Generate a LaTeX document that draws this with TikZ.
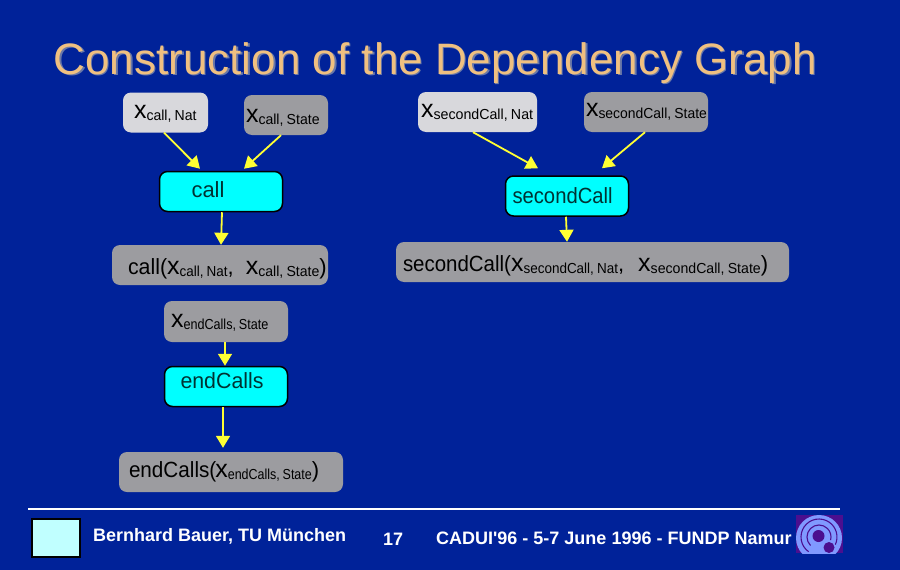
\documentclass[tikz,border=0pt]{standalone}
\usepackage{graphicx}
\usepackage{fontspec}
\setmainfont{Liberation Sans}
\newfontfamily\footfont{Liberation Sans}
\usetikzlibrary{arrows.meta}
\definecolor{bgblue}{HTML}{002299}
\definecolor{titlecol}{HTML}{F0C080}
\definecolor{shadowcol}{HTML}{6A78A8}
\definecolor{lightg}{HTML}{D8D8DC}
\definecolor{midg}{HTML}{9C9CA0}
\definecolor{cyanbox}{HTML}{00FFFF}
\definecolor{swatch}{HTML}{C0FFFF}
\definecolor{logobg}{HTML}{4B0F8F}
\definecolor{logoblue}{HTML}{8099FF}
\definecolor{yarrow}{HTML}{FFFF33}
\newcommand{\bigtxt}[1]{{\fontsize{22}{24}\selectfont #1}}
\newcommand{\xtxt}{{\fontsize{25}{24}\selectfont x}}
\newcommand{\subtxt}[2][.97]{\raisebox{-2pt}{\scalebox{#1}[1]{\fontsize{14.5}{16}\selectfont #2}}}
\newcommand{\sqz}[2][.93]{\scalebox{#1}[1]{\bigtxt{#2}}}
\tikzset{
  x=1pt,y=-1pt,
  anybox/.style={rounded corners=8pt,inner xsep=0pt,inner ysep=0pt,align=left,text=black,text height=10pt,text depth=5pt},
  lightbox/.style={anybox,fill=lightg},
  greybox/.style={anybox,fill=midg},
  opbox/.style={anybox,fill=cyanbox,draw=black,line width=1.5pt,text=black!80!cyanbox},
  flow/.style={draw=yarrow,line width=1.8pt,-{Triangle[length=12pt,width=14pt]}},
  foot/.style={text=white,font=\footfont\bfseries\fontsize{18}{20}\selectfont,anchor=base west,inner sep=0pt},
}
\begin{document}
\begin{tikzpicture}
\useasboundingbox (0,0) rectangle (900,570);
\fill[bgblue] (0,0) rectangle (900,570);
% title
\node[anchor=base west,inner sep=0pt,text=shadowcol,font=\fontsize{44}{48}\selectfont] (titleshadow) at (55,75.5) {Construction of the Dependency Graph};
\node[anchor=base west,inner sep=0pt,text=titlecol,font=\fontsize{44}{48}\selectfont] (title) at (53.5,74) {Construction of the Dependency Graph};
% left column
\node[lightbox,text width=85pt,minimum height=40pt] (cn) at (165.5,112.5) {\hspace*{11pt}\raisebox{-3.5pt}{\xtxt\subtxt{call, Nat}}};
\node[greybox,text width=84pt,minimum height=40pt] (cs) at (286,115) {\hspace*{2pt}\raisebox{-4.5pt}{\xtxt\subtxt[.97]{call, State}}};
\node[opbox,text width=123pt,minimum height=40pt] (call) at (221,191.5) {\hspace*{32pt}\raisebox{-3pt}{\bigtxt{call}}};
\node[greybox,text width=216pt,minimum height=40pt] (callr) at (220,265) {\hspace*{16pt}\raisebox{-6.5pt}{\sqz[.97]{call(}\xtxt\subtxt[.93]{call, Nat}\bigtxt{,}\hspace{12pt}\xtxt\subtxt[.97]{call, State}\bigtxt{)}}};
\node[greybox,text width=124pt,minimum height=41pt] (es) at (226,321.5) {\hspace*{7pt}\raisebox{-3pt}{\xtxt\subtxt[.87]{endCalls, State}}};
\node[opbox,text width=123pt,minimum height=40pt] (end) at (226,386.5) {\hspace*{16pt}\raisebox{1pt}{\sqz[.97]{endCalls}}};
\node[greybox,text width=224pt,minimum height=40pt] (endr) at (231,472) {\hspace*{10pt}\raisebox{-2.5pt}{\sqz[.94]{endCalls(}\hspace{-1pt}\xtxt\subtxt[.86]{endCalls, State}\bigtxt{)}}};
% right column
\node[lightbox,text width=119pt,minimum height=40pt] (sn) at (477.5,112) {\hspace*{3pt}\raisebox{-2.5pt}{\xtxt\subtxt[.98]{secondCall, Nat}}};
\node[greybox,text width=124pt,minimum height=40pt] (ss) at (646,112) {\hspace*{2pt}\raisebox{-1.5pt}{\xtxt\subtxt[.96]{secondCall, State}}};
\node[opbox,text width=123pt,minimum height=40pt] (sc) at (567,196) {\hspace*{7pt}\raisebox{-5pt}{\sqz[.92]{secondCall}}};
\node[greybox,text width=393pt,minimum height=40pt] (scr) at (592.5,262) {\hspace*{7pt}\raisebox{-6.5pt}{\sqz{secondCall(}\xtxt\subtxt[.93]{secondCall, Nat}\bigtxt{,}\hspace{14pt}\xtxt\subtxt[.975]{secondCall, State}\bigtxt{)}}};
% connectors
\draw[flow] ([xshift=-1.5pt]cn.south) -- ([xshift=-21pt,yshift=2pt]call.north);
\draw[flow] ([xshift=-5pt]cs.south) -- ([xshift=23pt,yshift=2pt]call.north);
\draw[flow] ([xshift=1pt]call.south) -- ([xshift=1pt]callr.north);
\draw[flow] ([xshift=-1pt]es.south) -- ([xshift=-1pt]end.north);
\draw[flow] ([xshift=-3pt]end.south) -- ([xshift=-8pt,yshift=4pt]endr.north);
\draw[flow] ([xshift=-4.5pt]sn.south) -- ([xshift=-29pt,yshift=7pt]sc.north);
\draw[flow] ([xshift=-1pt]ss.south) -- ([xshift=35pt,yshift=7pt]sc.north);
\draw[flow] ([xshift=-1pt]sc.south) -- ([xshift=-25.5pt]scr.north);
% footer
\draw[white,line width=1.5pt] (28,509) -- (840,509);
\draw[black,fill=swatch,line width=2pt] (32,519) rectangle (80,557);
\node[foot] (author) at (93,541) {Bernhard Bauer, TU München};
\node[foot] (page) at (383,545) {17};
\node[foot] (conf) at (436,544) {CADUI'96 - 5-7 June 1996 - FUNDP Namur};
% logo
\fill[logobg] (796,515) rectangle (843,553);
\begin{scope}
\clip (796,515) rectangle (843,553);
\fill[logoblue] (819,538) circle (23);
\draw[logobg,line width=1.1pt] ([shift={(125:18)}]819,537) arc (125:385:18);
\draw[logobg,line width=1.1pt] ([shift={(135:12)}]819,537) arc (135:375:12);
\fill[logobg] (818.5,536) circle (6);
\fill[logobg] (829,547.5) circle (5.5);
\end{scope}
\end{tikzpicture}
\end{document}
